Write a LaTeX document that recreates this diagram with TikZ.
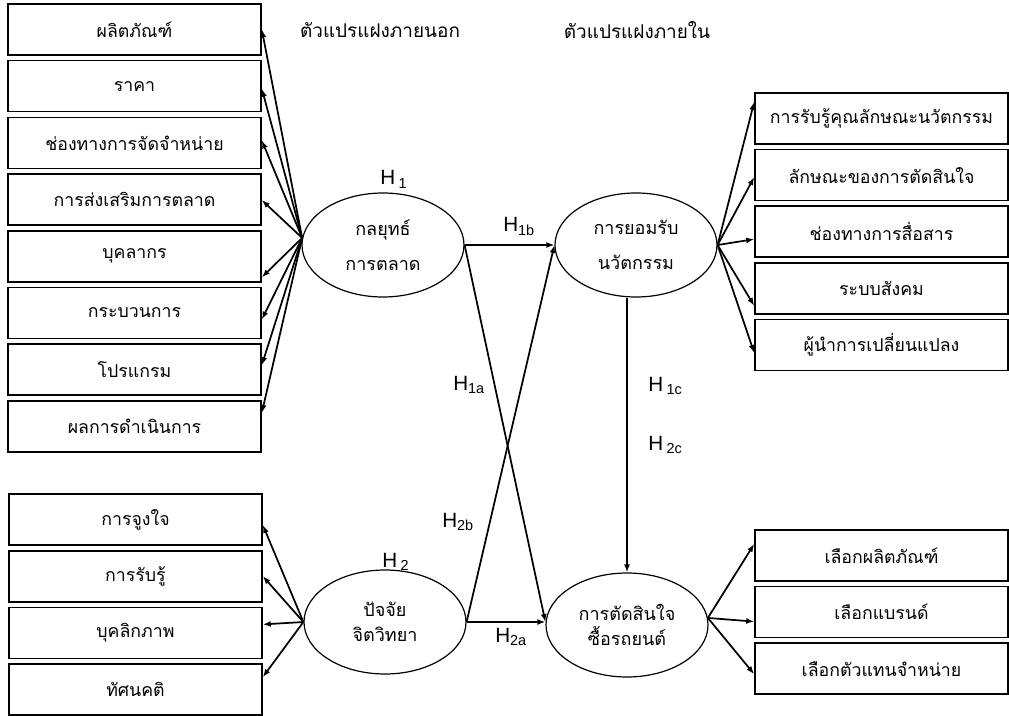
\documentclass[tikz,border=0pt]{standalone}
\usepackage{fontspec}
\setmainfont{Liberation Sans}
\newfontfamily\thaifont[Script=Thai]{Loma}
\usetikzlibrary{arrows.meta,calc,shapes.geometric}

\tikzset{
    varbox/.style={draw, line width=1.2pt, minimum width=189.75pt, minimum height=38.25pt,
        inner sep=0pt, font=\thaifont\fontsize{13.3}{15}\selectfont},
    latent/.style={draw, ellipse, line width=0.9pt, minimum width=121.5pt, minimum height=78pt,
        inner sep=0pt, align=center, font=\thaifont\fontsize{13.5}{26}\selectfont},
    lowlatent/.style={latent, font=\thaifont\fontsize{13.5}{19}\selectfont},
    arr/.style={line width=1.3pt, -{Latex[length=6pt,width=4.5pt]}},
    hlab/.style={anchor=base west, inner sep=0pt, font=\fontsize{15.5}{18}\selectfont},
    headtxt/.style={font=\thaifont\fontsize{14.2}{16}\selectfont}
}

\begin{document}
\begin{tikzpicture}[x=0.75pt, y=-0.75pt]
    \useasboundingbox (0,0) rectangle (1009,716);

    % Headings
    \node[headtxt] (exo) at (380,30) {ตัวแปรแฝงภายนอก};%
    \node[headtxt] (endo) at (637,30) {ตัวแปรแฝงภายใน};%

    % Marking latent variables by ellipses
    \node[latent] (mkt) at (383,245) {กลยุทธ์\\การตลาด};%
    \node[latent] (inno) at (636,245) {การยอมรับ\\นวัตกรรม};%
    \node[lowlatent] (psy) at (385,622) {ปัจจัย\\จิตวิทยา};%
    \node[lowlatent] (dec) at (627,625) {การตัดสินใจ\\ซื้อรถยนต์};%

    % Left boxes of marketing strategy
    \foreach \txt [count=\i] in {ผลิตภัณฑ์, ราคา, ช่องทางการจัดจำหน่าย, การส่งเสริมการตลาด,
        บุคลากร, กระบวนการ, โปรแกรม, ผลการดำเนินการ}
        \node[varbox] (lt\i) at (134.5,{29.5+56.7*(\i-1)}) {\txt};%

    % Left boxes of psychological factors
    \foreach \txt [count=\i] in {การจูงใจ, การรับรู้, บุคลิกภาพ, ทัศนคติ}
        \node[varbox] (lb\i) at (135.5,{519.5+56.7*(\i-1)}) {\txt};%

    % Right boxes of innovation adoption
    \foreach \txt [count=\i] in {การรับรู้คุณลักษณะนวัตกรรม, ลักษณะของการตัดสินใจ,
        ช่องทางการสื่อสาร, ระบบสังคม, ผู้นำการเปลี่ยนแปลง}
        \node[varbox] (rt\i) at (881.5,{118.5+56.6*(\i-1)}) {\txt};%

    % Right boxes of purchase decision
    \foreach \txt [count=\i] in {เลือกผลิตภัณฑ์, เลือกแบรนด์, เลือกตัวแทนจำหน่าย}
        \node[varbox] (rb\i) at (881.5,{555.5+56.6*(\i-1)}) {\txt};%

    % Drawing fans of arrows
    \foreach \i/\dy in {1/0,2/2.5,3/-2.5,4/0.5,5/21,6/6.5,7/-4.5,8/-13.5}
        \draw[arr] (mkt.175) -- ($(lt\i.east)+(0,\dy)$);%
    \foreach \i/\dy in {1/5.5,2/0,3/-8.5,4/-12.5}
        \draw[arr] (psy.west) -- ($(lb\i.east)+(0,\dy)$);%
    \foreach \i/\dy in {1/-16.5,2/2,3/7.5,4/17.5,5/8}
        \draw[arr] (inno.east) -- ($(rt\i.west)+(0,\dy)$);%
    \foreach \i/\dy in {1/-11.5,2/9.5,3/5.5}
        \draw[arr] (dec.5) -- ($(rb\i.west)+(0,\dy)$);%

    % Drawing paths between latent variables
    \draw[arr] (mkt.east) -- (inno.west);%
    \draw[arr] (mkt.east) -- (psy.east -| dec.west);%
    \draw[arr] (psy.east) -- (inno.west);%
    \draw[arr] (psy.east) -- (psy.east -| dec.west);%
    \draw[arr] (inno.south -| dec.north) -- (dec.north);%

    % Hypothesis labels
    \node[hlab] (h1) at (380,185) {H\,\textsubscript{1}};%
    \node[hlab] (h2) at (382,567) {H\,\textsubscript{2}};%
    \node[hlab] (h1b) at (503,232) {H\textsubscript{1b}};%
    \node[hlab] (h1a) at (453,390) {H\textsubscript{1a}};%
    \node[hlab] (h2b) at (442,527) {H\textsubscript{2b}};%
    \node[hlab] (h2a) at (495,642) {H\textsubscript{2a}};%
    \node[hlab] (h1c) at (648,391) {H\,\textsubscript{1c}};%
    \node[hlab] (h2c) at (648,450) {H\,\textsubscript{2c}};%
\end{tikzpicture}
\end{document}
